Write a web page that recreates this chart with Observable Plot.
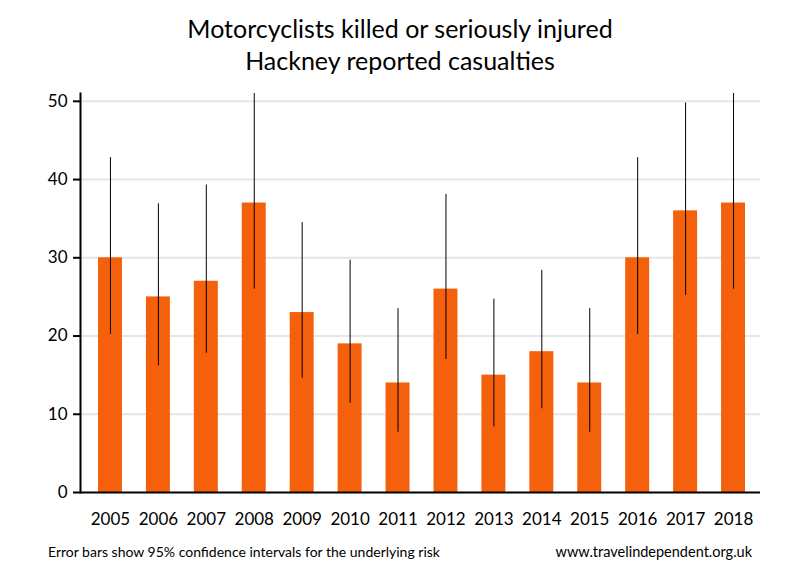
<!DOCTYPE html>
<html><head><meta charset="utf-8">
<script src="https://cdn.jsdelivr.net/npm/d3@7"></script>
<script src="https://cdn.jsdelivr.net/npm/@observablehq/plot@0.6"></script>
<style>
body{margin:0;background:#fff;font-family:Lato,"Open Sans",sans-serif;}
#wrap{width:800px;height:580px;position:relative;}
#title{position:absolute;top:12px;left:0;width:800px;text-align:center;font-size:25px;line-height:32px;color:#000;}
#chart{position:absolute;top:80px;left:0;}
#note{position:absolute;top:543px;left:48px;font-size:14px;color:#000;}
#src{position:absolute;top:543px;right:48px;font-size:14.5px;color:#000;}
</style></head>
<body><div id="wrap">
<div id="title">Motorcyclists killed or seriously injured<br>Hackney reported casualties</div>
<div id="chart"></div>
<div id="note">Error bars show 95% confidence intervals for the underlying risk</div>
<div id="src">www.travelindependent.org.uk</div>
</div>
<script>
const years = ["2005","2006","2007","2008","2009","2010","2011","2012","2013","2014","2015","2016","2017","2018"];
const casualties = [30,25,27,37,23,19,14,26,15,18,14,30,36,37];
const lower = [20.2,16.2,17.8,26.0,14.6,11.4,7.7,17.0,8.4,10.7,7.7,20.2,25.2,26.0];
const upper = [42.8,36.9,39.3,51.0,34.5,29.7,23.5,38.1,24.7,28.4,23.5,42.8,49.8,51.0];
const yTicks = [0,10,20,30,40,50];

const data = years.map((y,i)=>({year:y, value:casualties[i], lo:lower[i], hi:upper[i]}));

const plot = Plot.plot({
  width: 800, height: 457,
  marginTop: 13, marginBottom: 45, marginLeft: 80, marginRight: 40,
  style: {fontFamily: "Lato, 'Open Sans', sans-serif", fontSize: "17px", color: "#000", background: "#fff"},
  x: {domain: years, paddingInner: 0.5, paddingOuter: 0.25, round: false, insetLeft: 6, insetRight: 3, label: null},
  y: {domain: [0, 51], label: null},
  marks: [
    Plot.ruleY(yTicks.filter(d=>d>0), {stroke: "#e6e6e6", strokeWidth: 2}),
    Plot.barY(data, {x: "year", y: "value", fill: "#f4600c"}),
    Plot.ruleX(data, {x: "year", y1: "lo", y2: "hi", stroke: "#000", strokeWidth: 1, clip: true}),
    Plot.axisY({ticks: yTicks, tickSize: 7, tickPadding: 6, strokeWidth: 2, fontSize: 17, label: null}),
    Plot.axisX({tickSize: 0, tickPadding: 20, fontSize: 17, label: null}),
    Plot.ruleY([0], {stroke: "#000", strokeWidth: 2}),
    Plot.frame({anchor: "left", stroke: "#000", strokeWidth: 2})
  ]
});
document.getElementById("chart").appendChild(plot);
</script>
</body></html>
